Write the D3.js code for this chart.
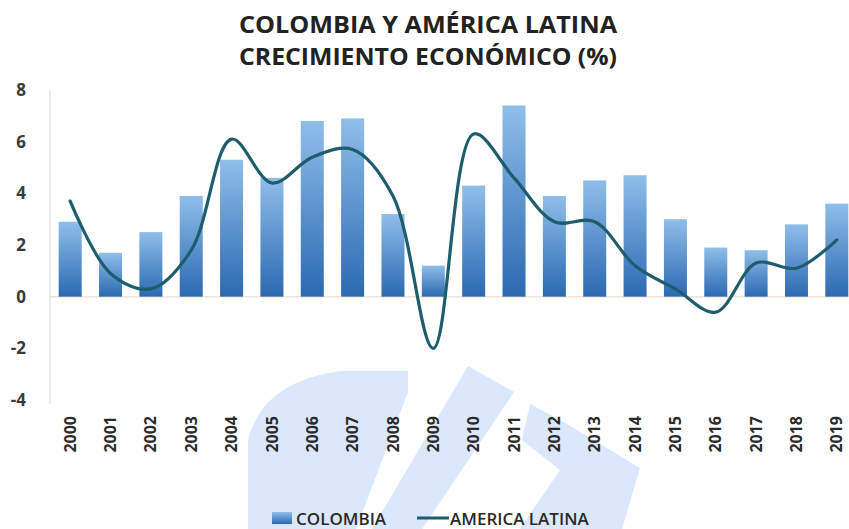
<!DOCTYPE html>
<html>
<head>
<meta charset="utf-8">
<script src="https://cdn.jsdelivr.net/npm/d3@7"></script>
<style>
  body { margin: 0; background: #fff; }
  svg text { font-family: "Open Sans", "Liberation Sans", sans-serif; }
</style>
</head>
<body>
<div id="chart"></div>
<script>
'use strict'

// data
const years = ['2000', '2001', '2002', '2003', '2004', '2005', '2006', '2007', '2008', '2009',
  '2010', '2011', '2012', '2013', '2014', '2015', '2016', '2017', '2018', '2019']
const colombia = [2.9, 1.7, 2.5, 3.9, 5.3, 4.6, 6.8, 6.9, 3.2, 1.2,
  4.3, 7.4, 3.9, 4.5, 4.7, 3.0, 1.9, 1.8, 2.8, 3.6]
const americaLatina = [3.7, 0.9, 0.3, 1.8, 6.1, 4.4, 5.4, 5.7, 3.9, -2.0,
  6.3, 4.6, 2.9, 2.9, 1.2, 0.3, -0.6, 1.3, 1.1, 2.2]
const yTicks = [-4, -2, 0, 2, 4, 6, 8]
const titleLines = ['COLOMBIA Y AMÉRICA LATINA', 'CRECIMIENTO ECONÓMICO (%)']
const legendLabels = ['COLOMBIA', 'AMERICA LATINA']

const width = 849
const height = 529
const margin = { top: 90, right: -8, bottom: 129, left: 50 }

const svg = d3.select('#chart').append('svg')
  .attr('width', width)
  .attr('height', height)

const defs = svg.append('defs')
const grad = defs.append('linearGradient')
  .attr('id', 'barGrad')
  .attr('x1', 0).attr('y1', 0).attr('x2', 0).attr('y2', 1)
grad.append('stop').attr('offset', '0%').attr('stop-color', '#8fbeea')
grad.append('stop').attr('offset', '100%').attr('stop-color', '#2b69b1')

// faint watermark in the background
const wm = svg.append('g').attr('fill', '#dae7fc')
wm.append('path').attr('d', 'M248,529 L248,440 Q262,382 340,371 L408,371 L408,392 L356,529 Z')
wm.append('path').attr('d', 'M468,366 L514,392 L422,529 L372,529 Z')
wm.append('path').attr('d', 'M530,404 L560,420 L640,468 L622,529 L520,529 L560,470 L522,440 Z')

// scales
const x = d3.scaleBand()
  .domain(years)
  .range([margin.left, width - margin.right])
  .paddingInner(0.43)
  .paddingOuter(0.215)

const y = d3.scaleLinear()
  .domain([-4, 8])
  .range([height - margin.bottom, margin.top])

// axis line and zero line
svg.append('line')
  .attr('x1', margin.left).attr('x2', margin.left)
  .attr('y1', y(8)).attr('y2', y(-4) + 4)
  .attr('stroke', '#d9d9d9')
svg.append('line')
  .attr('x1', margin.left).attr('x2', x(years[years.length - 1]) + x.bandwidth())
  .attr('y1', y(0)).attr('y2', y(0))
  .attr('stroke', '#f1e2d8')
  .attr('stroke-width', 1.5)

// y axis labels (plain hyphen for negatives, as in the picture)
const yAxis = svg.append('g')
  .attr('transform', 'translate(' + (margin.left - 24) + ',0)')
  .call(d3.axisLeft(y).tickValues(yTicks).tickSize(0).tickPadding(0).tickFormat(d => String(d)))
yAxis.select('.domain').remove()
yAxis.selectAll('text')
  .attr('font-size', 17)
  .attr('font-weight', 700)
  .attr('fill', '#3a3a3a')
  .style('font-family', '"Open Sans", sans-serif')

// bars
svg.append('g').selectAll('rect')
  .data(colombia)
  .join('rect')
  .attr('x', (d, i) => x(years[i]))
  .attr('y', d => y(Math.max(0, d)))
  .attr('width', x.bandwidth())
  .attr('height', d => Math.abs(y(d) - y(0)))
  .attr('fill', 'url(#barGrad)')

// smoothed line
const line = d3.line()
  .x((d, i) => x(years[i]) + x.bandwidth() / 2)
  .y(d => y(d))
  .curve(d3.curveCatmullRom.alpha(0.5))

svg.append('path')
  .datum(americaLatina)
  .attr('d', line)
  .attr('fill', 'none')
  .attr('stroke', '#1d5d6e')
  .attr('stroke-width', 3.2)
  .attr('stroke-linecap', 'round')

// x labels, rotated
const xAxis = svg.append('g')
  .attr('transform', 'translate(0,' + (y(-4) + 16) + ')')
  .call(d3.axisBottom(x).tickSize(0).tickPadding(0))
xAxis.select('.domain').remove()
xAxis.selectAll('text')
  .attr('transform', 'rotate(-90)')
  .attr('text-anchor', 'end')
  .attr('x', 0)
  .attr('y', 0)
  .attr('dy', '0.35em')
  .attr('font-size', 16)
  .attr('font-weight', 700)
  .attr('fill', '#2a2a2a')
  .style('font-family', '"Open Sans", sans-serif')

// title
svg.append('g').selectAll('text')
  .data(titleLines)
  .join('text')
  .attr('x', 428)
  .attr('y', (d, i) => 33 + i * 32)
  .attr('text-anchor', 'middle')
  .attr('font-size', 23)
  .attr('font-weight', 700)
  .attr('fill', '#222')
  .attr('textLength', 378)
  .attr('lengthAdjust', 'spacingAndGlyphs')
  .text(d => d)

// legend
const legend = svg.append('g')
legend.append('rect')
  .attr('x', 272).attr('y', 512)
  .attr('width', 20).attr('height', 12)
  .attr('fill', 'url(#barGrad)')
legend.append('text')
  .attr('x', 296).attr('y', 525)
  .attr('font-size', 17)
  .attr('font-weight', 600)
  .attr('fill', '#2a2a2a')
  .text(legendLabels[0])
legend.append('line')
  .attr('x1', 417).attr('x2', 449)
  .attr('y1', 518).attr('y2', 518)
  .attr('stroke', '#1d5d6e')
  .attr('stroke-width', 3)
legend.append('text')
  .attr('x', 450).attr('y', 525)
  .attr('font-size', 17)
  .attr('font-weight', 600)
  .attr('fill', '#2a2a2a')
  .text(legendLabels[1])
</script>
</body>
</html>
